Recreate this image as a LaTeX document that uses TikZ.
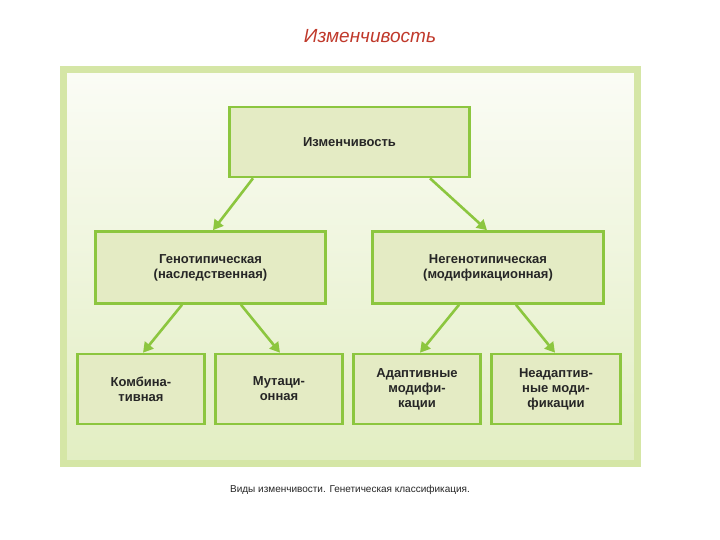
\documentclass[tikz,border=0pt]{standalone}
\usepackage{fontspec}
\setmainfont{Liberation Sans}
\usetikzlibrary{arrows.meta}
\definecolor{gborder}{HTML}{8CC63F}
\definecolor{gfill}{HTML}{E4EBC4}
\definecolor{panelb}{HTML}{D5E6A6}
\definecolor{ptop}{HTML}{FBFCF6}
\definecolor{pbot}{HTML}{E2EEC2}
\definecolor{ttl}{HTML}{C0392B}
\begin{document}
\begin{tikzpicture}[x=1pt,y=-1pt,
  box/.style={draw=gborder,line width=2.6pt,fill=gfill,minimum height=#1,align=center,font=\bfseries\fontsize{13}{15}\selectfont,text=black!85},
  arr/.style={-{Triangle[length=10pt,width=11pt]},draw=gborder,line width=2.6pt}]
\useasboundingbox (0,0) rectangle (720,540);
\fill[white] (0,0) rectangle (720,540);
\node[font=\itshape\fontsize{19}{22}\selectfont,text=ttl] (title) at (370,36) {Изменчивость};
\draw[panelb,line width=7pt,top color=ptop,bottom color=pbot] (63.5,69.5) rectangle (637.5,463.5);
\node[box=70pt,minimum width=240pt] (top) at (349.5,142) {Изменчивость};
\node[box=72pt,minimum width=230pt] (g) at (210.5,267.5) {Генотипическая\\(наследственная)};
\node[box=72pt,minimum width=231pt] (n) at (488,267.5) {Негенотипическая\\(модификационная)};
\node[box=70pt,minimum width=127pt] (k) at (141,389) {Комбина-\\тивная};
\node[box=70pt,minimum width=127pt] (m) at (279,389) {Мутаци-\\онная};
\node[box=70pt,minimum width=127pt] (a) at (417,389) {Адаптивные\\модифи-\\кации};
\node[box=70pt,minimum width=129pt] (na) at (556,389) {Неадаптив-\\ные моди-\\фикации};
\draw[arr] (top.south -| 253,0) -- (g.north -| 213,0);
\draw[arr] (top.south -| 430,0) -- (n.north -| 487,0);
\draw[arr] (g.south -| 182,0) -- (k.north -| 143,0);
\draw[arr] (g.south -| 241,0) -- (m.north -| 280,0);
\draw[arr] (n.south -| 459,0) -- (a.north -| 420,0);
\draw[arr] (n.south -| 516,0) -- (na.north -| 555,0);
\node[font=\fontsize{10}{12}\selectfont,text=black!85] (cap) at (350,490) {Виды изменчивости. Генетическая классификация.};
\end{tikzpicture}
\end{document}
